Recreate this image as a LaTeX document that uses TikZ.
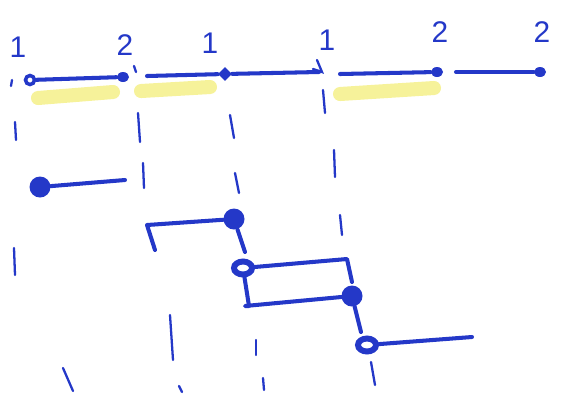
\documentclass[tikz,border=0pt]{standalone}
\usepackage{fontspec}
\setsansfont{Liberation Sans}
\usepackage{tikz}
\usetikzlibrary{calc, shapes.geometric}
\definecolor{marker}{HTML}{2438C8}
\definecolor{hilite}{HTML}{F6F29A}

\begin{document}
\begin{tikzpicture}[
  x=0.02cm, y=-0.02cm,
  pen/.style={draw=marker, line width=2.3pt, line cap=round, line join=round},
  thin pen/.style={draw=marker, line width=1.3pt, line cap=round},
  highlight/.style={draw=hilite, line width=8pt, line cap=round},
  smalldot/.style={ellipse, fill=marker, inner sep=0pt, minimum width=0.24cm, minimum height=0.2cm},
  bigdot/.style={circle, fill=marker, inner sep=0pt, minimum size=0.42cm},
  ring/.style={ellipse, draw=marker, line width=3.4pt, fill=white, inner sep=0pt, minimum width=0.36cm, minimum height=0.26cm},
  openring/.style={circle, draw=marker, line width=2pt, fill=white, inner sep=0pt, minimum size=0.18cm},
  lab/.style={text=marker, font=\sffamily\fontsize{17}{17}\selectfont}
]
  \useasboundingbox (0,0) rectangle (587,400);

  % yellow highlights under the first, second and fourth piece
  \draw[highlight] (38,98) -- (113,92);
  \draw[highlight] (141,91) -- (210,87);
  \draw[highlight] (340,94) -- (434,88);

  % labels above the top line
  \node[lab] (l1) at (18,47) {1};
  \node[lab] (l2) at (125,45) {2};
  \node[lab] (l3) at (210,43) {1};
  \node[lab] (l4) at (327,40) {1};
  \node[lab] (l5) at (440,32) {2};
  \node[lab] (l6) at (542,32) {2};

  % top line, cut into pieces
  \node[openring] (a0) at (30,80) {};
  \node[smalldot] (a1) at (123,77) {};
  \draw[pen] (a0) -- (a1);

  \coordinate (b0) at (147,76);
  \node[diamond, fill=marker, inner sep=0pt, minimum size=0.28cm] (bm) at (225,74) {};
  \coordinate (b1) at (319,72);
  \draw[pen] (b0) -- (bm) -- (b1);

  \coordinate (c0) at (340,74);
  \node[smalldot] (c1) at (437,72) {};
  \draw[pen] (c0) -- (c1);

  \coordinate (d0) at (456,72);
  \node[smalldot] (d1) at (540,72) {};
  \draw[pen] (d0) -- (d1);

  % small marks on the top line
  \draw[thin pen] (12,80) -- (11,86);
  \draw[thin pen] (134,66) -- (136,72);
  \draw[thin pen] (317,60) -- (322,72) -- (313,69);

  % first step
  \node[bigdot] (r1s) at (40,187) {};
  \coordinate (r1e) at (125,180);
  \draw[pen] (r1s) -- (r1e);

  % second step
  \coordinate (r2s) at (147,225);
  \node[bigdot] (r2e) at (234,219) {};
  \coordinate (r2d) at (155,250);
  \coordinate (r2f) at (245,252);
  \draw[pen] (r2d) -- (r2s) -- (r2e);
  \draw[pen] (r2e) -- (r2f);

  % third step, a loop
  \node[ring] (r3s) at (243,268) {};
  \coordinate (r3e) at (347,259);
  \coordinate (r3d) at (352,282);
  \draw[pen] (r3s) -- (r3e) -- (r3d);
  \coordinate (r4s) at (245,306);
  \node[bigdot] (r4e) at (352,296) {};
  \draw[pen] (r3s) -- (249,306) -- (r4s) -- (r4e);

  % last step
  \node[ring] (r5s) at (367,345) {};
  \coordinate (r5e) at (472,337);
  \draw[pen] (r4e) -- (361,332);
  \draw[pen] (r5s) -- (r5e);

  % dotted guide lines
  \foreach \xa/\ya/\xb/\yb in {
      15/122/16/140, 138/113/140/142, 230/115/234/138, 323/90/325/113,
      143/163/144/188, 235/173/239/193, 334/150/335/177,
      14/248/15/275, 340/215/342/235, 170/315/173/360, 256/340/256/355,
      63/368/73/391, 179/386/182/392, 263/378/264/390, 371/362/375/385} {
    \draw[thin pen] (\xa,\ya) -- (\xb,\yb);
  }
\end{tikzpicture}
\end{document}
